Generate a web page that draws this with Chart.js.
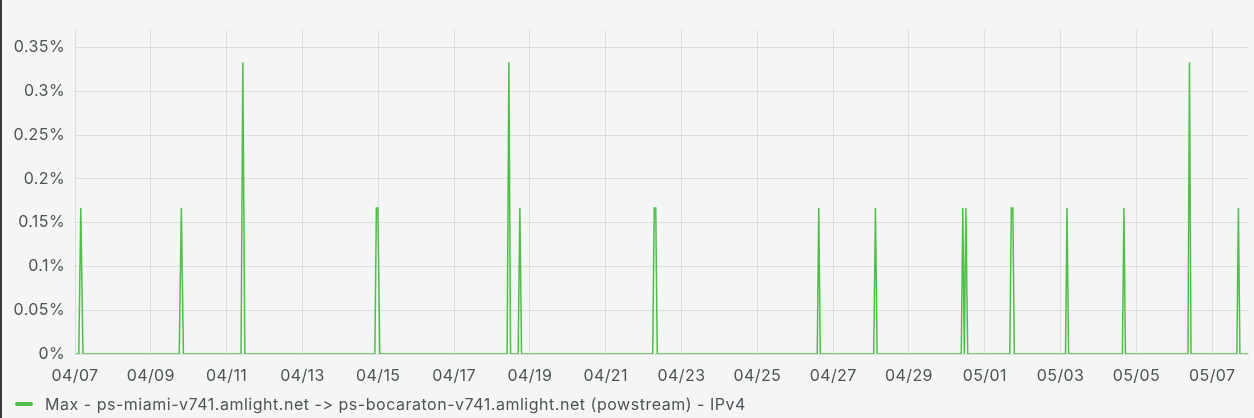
<!DOCTYPE html>
<html>
<head>
<meta charset="utf-8">
<script src="https://cdn.jsdelivr.net/npm/chart.js@4"></script>
<style>
    html, body { margin: 0; padding: 0; background: #f4f5f5; }
    #wrap { position: relative; width: 1254px; height: 418px; border-left: 2px solid #3a3a3a; box-sizing: border-box; }
    #chart { position: absolute; left: -2px; top: 0; }
    #legend { position: absolute; left: 13px; top: 394px; font: 16px Inter, sans-serif; letter-spacing: 0.52px;
        font-variant-ligatures: none; font-feature-settings: "calt" 0, "liga" 0; color: #4f5357; display: flex; align-items: center; }
    #legend .mark { width: 18px; height: 4px; border-radius: 2px; background: #52be4b; margin-right: 12px; }
</style>
</head>
<body>
<div id="wrap">
    <canvas id="chart" width="1254" height="418"></canvas>
    <div id="legend"><span class="mark"></span><span>Max - ps-miami-v741.amlight.net -&gt; ps-bocaraton-v741.amlight.net (powstream) - IPv4</span></div>
</div>
<script>
// x in days since 04/07 00:00, y in percent
const sampleDays = [
    0.02, 0.10, 0.153, 0.21,
    2.75, 2.805, 2.86,
    4.38, 4.427, 4.48,
    7.91, 7.95, 7.99, 8.04,
    11.40, 11.446, 11.49,
    11.69, 11.736, 11.78,
    15.24, 15.28, 15.32, 15.36,
    19.58, 19.62, 19.66,
    21.07, 21.116, 21.16,
    23.38, 23.42, 23.46, 23.50, 23.55,
    24.66, 24.70, 24.74, 24.78,
    26.13, 26.17, 26.21,
    27.63, 27.67, 27.71,
    29.36, 29.40, 29.44,
    30.65, 30.69, 30.73, 30.95
];
const sampleValues = [
    0, 0, 0.1667, 0,
    0, 0.1667, 0,
    0, 0.3333, 0,
    0, 0.1667, 0.1667, 0,
    0, 0.3333, 0,
    0, 0.1667, 0,
    0, 0.1667, 0.1667, 0,
    0, 0.1667, 0,
    0, 0.1667, 0,
    0, 0.1667, 0, 0.1667, 0,
    0, 0.1667, 0.1667, 0,
    0, 0.1667, 0,
    0, 0.1667, 0,
    0, 0.3333, 0,
    0, 0.1667, 0, 0
];
const xTickValues = [0, 2, 4, 6, 8, 10, 12, 14, 16, 18, 20, 22, 24, 26, 28, 30];
const xTickLabels = ['04/07', '04/09', '04/11', '04/13', '04/15', '04/17', '04/19', '04/21',
    '04/23', '04/25', '04/27', '04/29', '05/01', '05/03', '05/05', '05/07'];
const yTickValues = [0, 0.05, 0.1, 0.15, 0.2, 0.25, 0.3, 0.35];
const yTickLabels = ['0%', '0.05%', '0.1%', '0.15%', '0.2%', '0.25%', '0.3%', '0.35%'];
const seriesName = 'Max - ps-miami-v741.amlight.net -> ps-bocaraton-v741.amlight.net (powstream) - IPv4';

const points = sampleDays.map((d, i) => ({ x: d, y: sampleValues[i] }));
const gridColor = 'rgba(40, 44, 48, 0.11)';
const textColor = '#4f5357';

// slightly wider text, like the original screenshot
const spacing = {
    id: 'spacing',
    beforeDraw: chart => { chart.ctx.letterSpacing = '0.4px'; }
};

new Chart(document.getElementById('chart').getContext('2d'), {
    type: 'line',
    data: {
        datasets: [{
            label: seriesName,
            data: points,
            borderColor: '#4fbf48',
            backgroundColor: '#52be4b',
            borderWidth: 1.5,
            pointRadius: 0,
            tension: 0,
            fill: false
        }]
    },
    options: {
        responsive: false,
        animation: false,
        layout: { padding: { left: 2, top: 30, right: 5, bottom: 34 } },
        plugins: { legend: { display: false }, tooltip: { enabled: false } },
        scales: {
            x: {
                type: 'linear',
                min: 0,
                max: 30.97,
                afterBuildTicks: axis => { axis.ticks = xTickValues.map(v => ({ value: v })); },
                afterFit: axis => { axis.height = 30; },
                grid: { color: gridColor, drawTicks: false },
                border: { display: false },
                ticks: {
                    padding: 13,
                    maxRotation: 0,
                    autoSkip: false,
                    color: textColor,
                    font: { family: 'Inter', size: 16 },
                    callback: v => xTickLabels[xTickValues.indexOf(v)]
                }
            },
            y: {
                min: 0,
                max: 0.37,
                afterBuildTicks: axis => { axis.ticks = yTickValues.map(v => ({ value: v })); },
                afterFit: axis => { axis.width = 73; },
                grid: { color: gridColor, drawTicks: false },
                border: { display: false },
                ticks: {
                    padding: 10,
                    color: textColor,
                    font: { family: 'Inter', size: 16 },
                    callback: v => yTickLabels[yTickValues.indexOf(v)]
                }
            }
        }
    },
    plugins: [spacing]
});
</script>
</body>
</html>
